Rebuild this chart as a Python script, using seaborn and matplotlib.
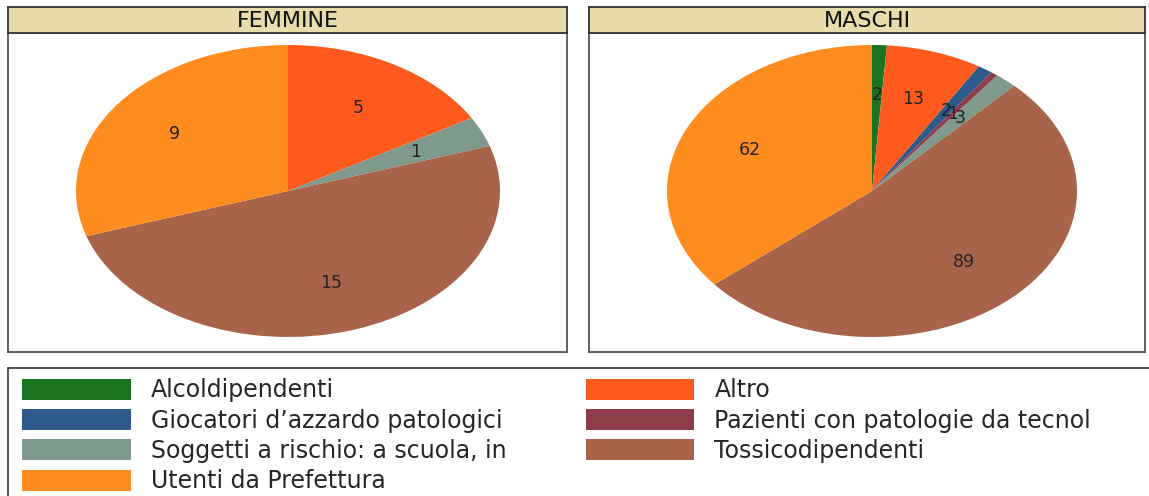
import matplotlib
matplotlib.use("Agg")
import matplotlib.pyplot as plt
import matplotlib.patches as mpatches
import seaborn as sns

# categorie (ordine del grafico, in senso orario da ore 12)
categorie = ["Alcoldipendenti", "Altro", "Giocatori d\u2019azzardo patologici",
             "Pazienti con patologie da tecnol", "Soggetti a rischio: a scuola, in",
             "Tossicodipendenti", "Utenti da Prefettura"]
colori = ["#1c7421", "#ff5a1e", "#2d5a8a", "#8e3d4b", "#7f9a8c", "#a8644a", "#ff8c1e"]

femmine = [0, 5, 0, 0, 1, 15, 9]
maschi = [2, 13, 2, 1, 3, 89, 62]

pannelli = ["FEMMINE", "MASCHI"]

sns.set_theme(style="white")
plt.rcParams['font.family'] = ['DejaVu Sans']
palette = sns.color_palette(colori)

W, H = 1149, 496
fig = plt.figure(figsize=(W / 100, H / 100), dpi=100)
fig.patch.set_facecolor("white")


def fx(px):
    return px / W


def fy(py):
    return 1 - py / H


# posizione pannelli in pixel: x0, x1, centro torta, semiasse x
geom = [(8, 567, 288, 212), (589, 1145, 872, 205)]
top_strip, top_plot, bottom_plot = 7, 33, 352
ry = 146
cy = 191


def pie_panel(x0, x1, cx, rx, valori, titolo):
    ax = fig.add_axes([fx(x0), fy(bottom_plot), fx(x1 - x0), (bottom_plot - top_plot) / H])
    tot = sum(valori)
    vals = [v for v in valori if v > 0]
    cols = [palette[i] for i, v in enumerate(valori) if v > 0]
    ax.pie(vals, colors=cols, startangle=90, counterclock=False,
           autopct=lambda p: "%d" % round(p * tot / 100), pctdistance=0.66,
           wedgeprops=dict(linewidth=0), textprops=dict(fontsize=12.5, color="#222222"))
    ax.set_aspect("auto")
    ax.set_xlim(-(cx - x0) / rx, (x1 - cx) / rx)
    ax.set_ylim(-(bottom_plot - cy) / ry, (cy - top_plot) / ry)
    ax.set_frame_on(True)
    for s in ax.spines.values():
        s.set_visible(True)
        s.set_color("#555555")
        s.set_linewidth(1.3)

    strip = fig.add_axes([fx(x0), fy(top_plot), fx(x1 - x0), (top_plot - top_strip) / H])
    strip.set_facecolor("#e8dcaa")
    strip.set_xticks([])
    strip.set_yticks([])
    for s in strip.spines.values():
        s.set_color("#333333")
        s.set_linewidth(1.3)
    strip.text(0.5, 0.45, titolo, ha="center", va="center", fontsize=16,
               color="#111111", transform=strip.transAxes)


for (x0, x1, cx, rx), valori, titolo in zip(geom, [femmine, maschi], pannelli):
    pie_panel(x0, x1, cx, rx, valori, titolo)

# legenda: riempita per colonne, quindi riordino per avere l'ordine per righe
ordine = [0, 2, 4, 6, 1, 3, 5]
handles = [mpatches.Patch(facecolor=palette[i], edgecolor="none") for i in ordine]
labels = [categorie[i] for i in ordine]
leg = fig.legend(handles, labels, ncol=2, loc="upper left",
                 bbox_to_anchor=(fx(14), fy(370)), borderaxespad=0,
                 fontsize=17, handlelength=4.6, handleheight=1.0,
                 handletextpad=0.85, labelspacing=0.27, columnspacing=3.35,
                 borderpad=0.35, frameon=False)

# cornice della legenda (tagliata dal bordo come nell'originale)
cornice = mpatches.Rectangle((fx(8), fy(520)), fx(1170 - 8), (520 - 368) / H,
                             transform=fig.transFigure, fill=False,
                             edgecolor="#444444", linewidth=1.3)
fig.add_artist(cornice)

fig.savefig("out.png", dpi=100)
